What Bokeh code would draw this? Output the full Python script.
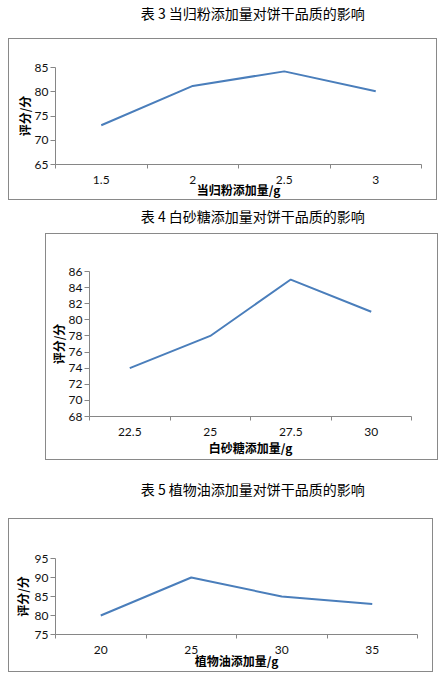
from bokeh.plotting import figure
from bokeh.layouts import column, row
from bokeh.models import Range1d, FixedTicker, Label, Spacer
from bokeh.embed import file_html
from bokeh.resources import INLINE

# ---------------- data ----------------
titles = ["表 3 当归粉添加量对饼干品质的影响",
          "表 4 白砂糖添加量对饼干品质的影响",
          "表 5 植物油添加量对饼干品质的影响"]
x_names = ["当归粉添加量/g", "白砂糖添加量/g", "植物油添加量/g"]
y_name = "评分/分"

cats1 = ["1.5", "2", "2.5", "3"]
vals1 = [73.1, 81.2, 84.2, 80.1]
yticks1 = [65, 70, 75, 80, 85]

cats2 = ["22.5", "25", "27.5", "30"]
vals2 = [74, 78, 85, 81]
yticks2 = [68, 70, 72, 74, 76, 78, 80, 82, 84, 86]

cats3 = ["20", "25", "30", "35"]
vals3 = [80, 90, 85, 83]
yticks3 = [75, 80, 85, 90, 95]

LINE = "#4a7ebb"
AXIS = "#868686"
TXT = "#111111"
CJK = "Noto Sans CJK SC"
NUM = "Lato"


def title_fig(text, w, h, cx, cy):
    t = figure(width=w, height=h, x_range=Range1d(0, w), y_range=Range1d(h, 0),
               output_backend="svg", toolbar_location=None,
               x_axis_location=None, y_axis_location=None,
               min_border=0, min_border_left=0, min_border_right=0,
               min_border_top=0, min_border_bottom=0)
    t.grid.visible = False
    t.outline_line_color = None
    t.border_fill_color = None
    t.background_fill_color = None
    t.add_layout(Label(x=cx, y=cy, text=text, text_font=CJK, text_font_size="14px",
                       text_color="#000000", text_align="center", text_baseline="middle"))
    return t


def chart(cats, vals, yticks, xlabel, w, h, bl, br, bt, bb, ylab_standoff, xlab_standoff):
    xs = list(range(len(cats)))
    p = figure(width=w, height=h,
               x_range=Range1d(-0.5, len(cats) - 0.5),
               y_range=Range1d(yticks[0], yticks[-1]),
               output_backend="svg", toolbar_location=None,
               min_border_left=bl, min_border_right=br,
               min_border_top=bt, min_border_bottom=bb,
               styles={"box-shadow": "inset 0 0 0 1px #898989"})
    p.border_fill_color = None
    p.background_fill_color = None
    p.outline_line_color = None
    p.grid.visible = False

    p.line(xs, vals, line_color=LINE, line_width=2)

    xa = p.xaxis[0]
    xa.ticker = FixedTicker(ticks=xs, minor_ticks=[i - 0.5 for i in range(len(cats) + 1)])
    xa.major_label_overrides = {i: c for i, c in zip(xs, cats)}
    xa.major_tick_out = 0
    xa.major_tick_in = 0
    xa.minor_tick_out = 4
    xa.minor_tick_in = 0
    xa.minor_tick_line_color = AXIS
    xa.axis_line_color = AXIS
    xa.major_label_text_font = NUM
    xa.major_label_text_font_size = "12px"
    xa.major_label_text_color = TXT
    xa.major_label_standoff = 7
    xa.axis_label = xlabel
    xa.axis_label_text_font = CJK
    xa.axis_label_text_font_size = "12px"
    xa.axis_label_text_font_style = "bold"
    xa.axis_label_text_color = "#000000"
    xa.axis_label_standoff = xlab_standoff

    ya = p.yaxis[0]
    ya.ticker = FixedTicker(ticks=yticks, minor_ticks=[])
    ya.major_tick_out = 5
    ya.major_tick_in = 0
    ya.major_tick_line_color = AXIS
    ya.axis_line_color = AXIS
    ya.major_label_text_font = NUM
    ya.major_label_text_font_size = "12px"
    ya.major_label_text_color = TXT
    ya.major_label_standoff = 2
    ya.axis_label = y_name
    ya.axis_label_text_font = CJK
    ya.axis_label_text_font_size = "12px"
    ya.axis_label_text_font_style = "bold"
    ya.axis_label_text_color = "#000000"
    ya.axis_label_standoff = ylab_standoff
    return p


t1 = title_fig(titles[0], 432, 38, 231, 12)
p1 = chart(cats1, vals1, yticks1, x_names[0], 429, 162, 45, 16, 29, 36, -1, -6)
t2 = title_fig(titles[1], 432, 33, 231, 15)
p2 = chart(cats2, vals2, yticks2, x_names[1], 393, 227, 44, 27, 38, 44, -1, 0)
t3 = title_fig(titles[2], 432, 58, 231, 28)
p3 = chart(cats3, vals3, yticks3, x_names[2], 425, 154, 47, 11, 40, 38, 1, -5)

body = column(t1, p1, t2, row(Spacer(width=37, height=227), p2), t3, p3, spacing=0)
layout = row(Spacer(width=8, height=10), body, spacing=0)

open("out.html", "w").write(file_html(layout, INLINE))
